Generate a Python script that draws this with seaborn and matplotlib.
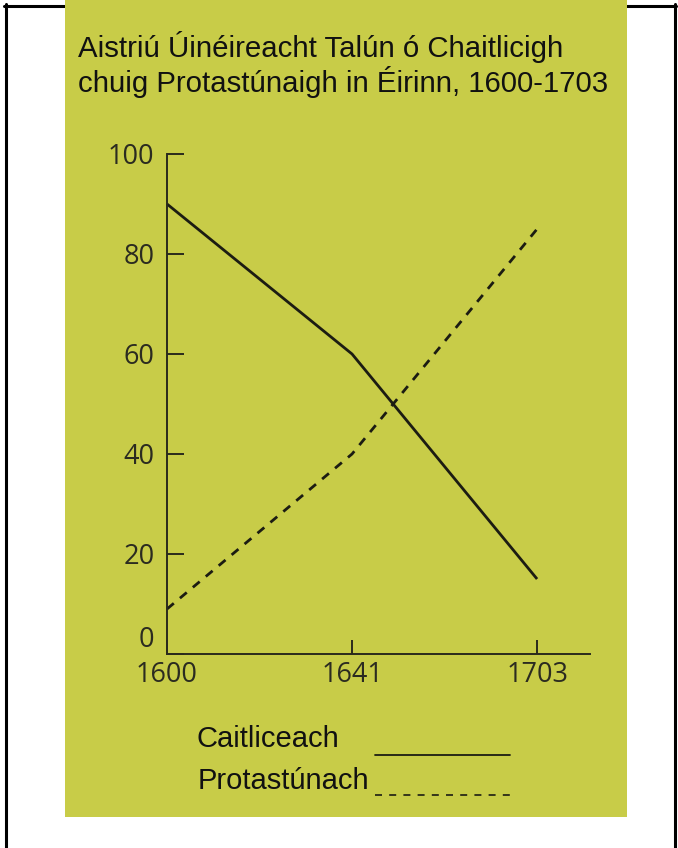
import matplotlib
matplotlib.use("Agg")
import matplotlib.pyplot as plt
from matplotlib.lines import Line2D
from matplotlib.patches import Rectangle
import seaborn as sns
import pandas as pd

# ---- data ----
years = ["1600", "1641", "1703"]
catholic = [90, 60, 15]
protestant = [9, 40, 85]
series_names = ["Caitliceach", "Protastúnach"]
y_ticks = [0, 20, 40, 60, 80, 100]
title_lines = ["Aistriú Úinéireacht Talún ó Chaitlicigh",
               "chuig Protastúnaigh in Éirinn, 1600-1703"]

df = pd.DataFrame({
    "year": years * 2,
    "value": catholic + protestant,
    "group": [series_names[0]] * len(years) + [series_names[1]] * len(years),
})

# ---- style ----
sns.set_theme(style="ticks")
plt.rcParams["font.family"] = ["Liberation Sans", "DejaVu Sans"]

OLIVE = "#c8cc48"
INK = "#1c1c12"
AXC = "#2a2a1c"
LABC = "#2b2b20"

W, H = 678, 848
fig = plt.figure(figsize=(W / 100, H / 100), dpi=100)
fig.patch.set_facecolor("white")


def fx(px):
    return px / W


def fy(py):
    return 1 - py / H


# border (top, left, right)
for xs, ys in [([4, 676], [5.5, 5.5]), ([5.5, 5.5], [4, 848]), ([674.5, 674.5], [4, 848])]:
    fig.add_artist(Line2D([fx(x) for x in xs], [fy(y) for y in ys],
                          transform=fig.transFigure, color="black", lw=2.2, zorder=-3))

# olive panel
fig.add_artist(Rectangle((fx(65), fy(817)), fx(627) - fx(65), 1 - fy(817),
                         transform=fig.transFigure, facecolor=OLIVE,
                         edgecolor="none", zorder=-2))

# ---- axes ----
ax = fig.add_axes([fx(167), fy(654), fx(590) - fx(167), fy(154) - fy(654)])
ax.set_facecolor("none")

sns.lineplot(data=df, x="year", y="value", style="group",
             dashes={series_names[0]: "", series_names[1]: (3.2, 2.87)},
             color=INK, linewidth=2.0, legend=False, errorbar=None,
             sort=False, ax=ax)
for ln in ax.lines:
    ln.set_clip_on(False)
    ln.set_solid_capstyle("butt")
    ln.set_dash_capstyle("butt")

ax.set_xlim(0, 2.286)
ax.set_ylim(0, 100)
ax.set_yticks(y_ticks)
ax.set_yticklabels([str(v) for v in y_ticks])
ax.set_xlabel("")
ax.set_ylabel("")

for s in ["top", "right"]:
    ax.spines[s].set_visible(False)
for s in ["left", "bottom"]:
    ax.spines[s].set_linewidth(1.4)
    ax.spines[s].set_color(AXC)

ax.tick_params(axis="y", direction="in", length=12.5, width=1.4, color=AXC,
               pad=9, labelsize=19.5, labelcolor=LABC, labelfontfamily="Open Sans")
ax.tick_params(axis="x", direction="in", length=10, width=1.4, color=AXC,
               pad=5, labelsize=19.5, labelcolor=LABC, labelfontfamily="Open Sans")
ax.yaxis.get_major_ticks()[0].label1.set_verticalalignment("bottom")

# ---- title ----
fig.text(fx(78), fy(57), title_lines[0], ha="left", va="baseline",
         fontsize=21.2, color="#111111")
fig.text(fx(78), fy(92), title_lines[1], ha="left", va="baseline",
         fontsize=21.2, color="#111111")

# ---- legend ----
fig.text(fx(197), fy(747), series_names[0], ha="left", va="baseline",
         fontsize=21, color="#111111")
fig.text(fx(198), fy(789), series_names[1], ha="left", va="baseline",
         fontsize=21, color="#111111")
fig.add_artist(Line2D([fx(375), fx(510)], [fy(755), fy(755)],
                      transform=fig.transFigure, color=INK, lw=1.3))
fig.add_artist(Line2D([fx(375), fx(510)], [fy(795), fy(795)],
                      transform=fig.transFigure, color=INK, lw=1.2,
                      dashes=(4.2, 4.32)))

fig.savefig("out.png", dpi=100, facecolor="white")
